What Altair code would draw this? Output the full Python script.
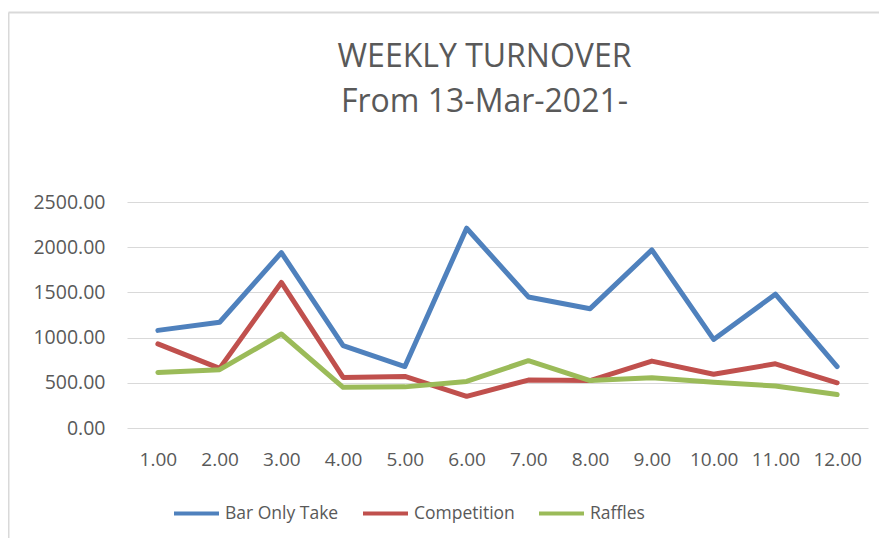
import altair as alt
import pandas as pd

weeks = [1, 2, 3, 4, 5, 6, 7, 8, 9, 10, 11, 12]
bar_only_take = [1080, 1170, 1940, 910, 680, 2210, 1450, 1320, 1970, 980, 1480, 680]
competition = [930, 660, 1610, 560, 570, 350, 530, 525, 740, 595, 710, 500]
raffles = [615, 645, 1040, 450, 455, 515, 745, 525, 555, 505, 465, 370]
series_names = ["Bar Only Take", "Competition", "Raffles"]
series_colors = ["#4F81BD", "#C0504D", "#9BBB59"]
y_ticks = [0, 500, 1000, 1500, 2000, 2500]
title_lines = ["WEEKLY TURNOVER", "From 13-Mar-2021-"]

rows = []
for name, vals in zip(series_names, [bar_only_take, competition, raffles]):
    for w, v in zip(weeks, vals):
        rows.append({"week": w, "series": name, "value": v})
df = pd.DataFrame(rows)

FONT = "Open Sans"
GREY = "#595959"
BORDER = "#D9D9D9"

lines = alt.Chart(df).mark_line(strokeWidth=5, strokeCap="round", strokeJoin="round").encode(
    x=alt.X(
        "week:O",
        scale=alt.Scale(type="point", padding=0.5),
        axis=alt.Axis(
            title=None, labelExpr="format(datum.value, '.2f')", labelAngle=0,
            ticks=False, domain=False, grid=False, labelPadding=22,
            labelFontSize=19, labelColor=GREY, labelFont=FONT,
        ),
    ),
    y=alt.Y(
        "value:Q",
        scale=alt.Scale(domain=[0, 2500], nice=False),
        axis=alt.Axis(
            title=None, values=y_ticks, format=".2f", ticks=False, domain=False,
            gridColor=BORDER, gridWidth=1, labelPadding=22,
            labelFontSize=19.5, labelColor=GREY, labelFont=FONT,
        ),
    ),
    color=alt.Color(
        "series:N",
        scale=alt.Scale(domain=series_names, range=series_colors),
        legend=alt.Legend(
            title=None, orient="none", legendX=45, legendY=287, direction="horizontal",
            symbolType="stroke", symbolSize=2025, symbolStrokeWidth=4,
            labelFontSize=17.5, labelFont=FONT, labelColor=GREY, labelOffset=4,
            columnPadding=16, padding=0,
        ),
    ),
)

one = pd.DataFrame({"k": [0]})
top_border = alt.Chart(one).mark_rule(color=BORDER, strokeWidth=2).encode(
    x=alt.value(-118.5), x2=alt.value(760), y=alt.value(-189.5)
)
left_border = alt.Chart(one).mark_rule(color=BORDER, strokeWidth=2).encode(
    x=alt.value(-118.5), y=alt.value(-189.5), y2=alt.value(340)
)

chart = alt.layer(top_border, left_border, lines).properties(
    width=741,
    height=226,
    padding={"left": 119, "top": 194, "right": 11, "bottom": 110},
    autosize=alt.AutoSizeParams(type="none"),
    title=alt.TitleParams(
        text=title_lines, fontSize=32, font=FONT, fontWeight="normal", color=GREY,
        anchor="middle", frame="group", lineHeight=45, offset=-107, dx=-13,
    ),
    background="white",
).configure_view(stroke=None)

chart.save("out.html", embed_options={"renderer": "svg", "actions": False})
